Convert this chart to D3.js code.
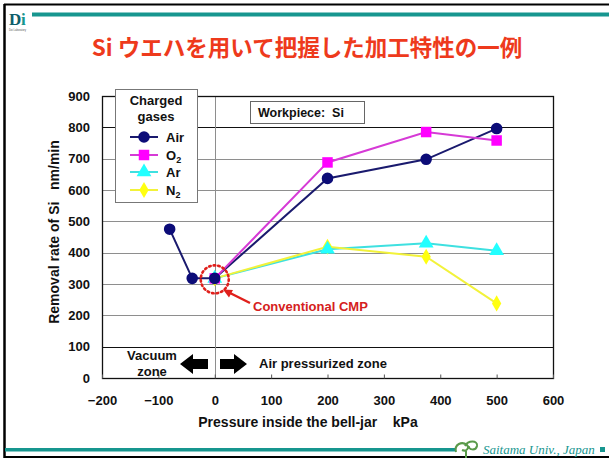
<!DOCTYPE html>
<html>
<head>
<meta charset="utf-8">
<script src="https://cdn.jsdelivr.net/npm/d3@7"></script>
<style>
  html, body { margin: 0; padding: 0; background: #fff; }
  svg { display: block; }
</style>
</head>
<body>
<svg id="chart" width="609" height="461" font-family="'Liberation Sans', Arial, sans-serif"></svg>
<script>
// Removal rate of Si versus bell-jar pressure, per charged gas
const pressures = {
  Air: [-80, -40, 0, 200, 375, 500],
  O2:  [0, 200, 375, 500],
  Ar:  [0, 200, 375, 500],
  N2:  [0, 200, 375, 500]
};
const airRate = [475, 318, 318, 637, 698, 796];
const o2Rate  = [318, 688, 785, 758];
const arRate  = [318, 411, 430, 406];
const n2Rate  = [318, 419, 387, 238];

const xTicks = [-200, -100, 0, 100, 200, 300, 400, 500, 600];
const yTicks = [0, 100, 200, 300, 400, 500, 600, 700, 800, 900];

const seriesNames = ["Air", "O2", "Ar", "N2"];
const seriesLabels = [["Air", ""], ["O", "2"], ["Ar", ""], ["N", "2"]];
const seriesRates = [airRate, o2Rate, arRate, n2Rate];

const teal = "#17968f";
const styles = {
  Air: { line: "#1a1a6e", fill: "#0c0c78", shape: d3.symbolCircle, size: 105 },
  O2:  { line: "#d63ad6", fill: "#ff00ff", shape: d3.symbolSquare, size: 110 },
  Ar:  { line: "#3ee0e0", fill: "#22ffff", shape: d3.symbolTriangle, size: 95 },
  N2:  { line: "#f2f23a", fill: "#ffff10", shape: d3.symbolDiamond, size: 75 }
};

const svg = d3.select("#chart");

// ---- slide frame ----
svg.append("rect").attr("x", 0).attr("y", 0).attr("width", 609).attr("height", 461).attr("fill", "#fff");
svg.append("line").attr("x1", 4).attr("x2", 609).attr("y1", 4.5).attr("y2", 4.5).attr("stroke", "#000").attr("stroke-width", 2);
svg.append("line").attr("x1", 4.5).attr("x2", 4.5).attr("y1", 4).attr("y2", 458).attr("stroke", "#000").attr("stroke-width", 2.5);
svg.append("line").attr("x1", 4).attr("x2", 609).attr("y1", 457).attr("y2", 457).attr("stroke", "#000").attr("stroke-width", 2);
svg.append("rect").attr("x", 32).attr("y", 12.5).attr("width", 577).attr("height", 4).attr("fill", teal);

// logo top-left
svg.append("text").attr("x", 9).attr("y", 25)
  .attr("font-family", "'Liberation Serif', serif").attr("font-weight", "bold")
  .attr("font-size", 17).attr("fill", "#0f5e6a").text("D");
svg.append("text").attr("x", 21).attr("y", 25)
  .attr("font-family", "'Liberation Serif', serif").attr("font-weight", "bold")
  .attr("font-size", 17).attr("fill", teal).text("i");
svg.append("text").attr("x", 9).attr("y", 30.5)
  .attr("font-size", 2.6).attr("fill", "#555").text("Doi Laboratory");

// bottom band
svg.append("rect").attr("x", 5).attr("y", 448).attr("width", 450).attr("height", 3.5).attr("fill", teal);
svg.append("path")
  .attr("d", "M456,452 C454,444 462,441 467,445 C470,448 466,452 462,450 M465,446 C468,440 478,440 477,446 C476,451 468,450 469,446 M466,450 L466,458")
  .attr("fill", "none").attr("stroke", "#5a9a4a").attr("stroke-width", 2);
svg.append("text").attr("x", 483).attr("y", 454)
  .attr("font-family", "'Liberation Serif', serif").attr("font-style", "italic")
  .attr("font-size", 13).attr("fill", teal).text("Saitama Univ., Japan");
svg.append("rect").attr("x", 600).attr("y", 447).attr("width", 5).attr("height", 5).attr("fill", teal);

// title
svg.append("text").attr("x", 307).attr("y", 56).attr("text-anchor", "middle")
  .attr("font-family", "'Noto Sans CJK JP', sans-serif").attr("font-weight", "bold")
  .attr("font-size", 22.5).attr("fill", "#ee3a1c")
  .text("Si ウエハを用いて把握した加工特性の一例");

// ---- scales ----
const x = d3.scaleLinear().domain([-200, 600]).range([102, 553]);
const y = d3.scaleLinear().domain([0, 900]).range([378, 96]);

const plot = svg.append("g");

// horizontal grid lines
plot.selectAll(".grid").data(yTicks.filter(t => t > 0 && t < 900)).join("line")
  .attr("x1", x(-200)).attr("x2", x(600))
  .attr("y1", d => Math.round(y(d)) + 0.5).attr("y2", d => Math.round(y(d)) + 0.5)
  .attr("stroke", d => (d === 100 || d === 800) ? "#111" : "#8e8e8e")
  .attr("stroke-width", 1);

// vertical line at zero pressure
plot.append("line")
  .attr("x1", Math.round(x(0)) + 0.5).attr("x2", Math.round(x(0)) + 0.5)
  .attr("y1", y(900)).attr("y2", y(0))
  .attr("stroke", "#8e8e8e").attr("stroke-width", 1);

// plot border
plot.append("rect")
  .attr("x", x(-200) + 0.5).attr("y", y(900) + 0.5)
  .attr("width", x(600) - x(-200)).attr("height", y(0) - y(900))
  .attr("fill", "none").attr("stroke", "#111").attr("stroke-width", 1.3);

// axes
const xAxis = d3.axisBottom(x).tickValues(xTicks).tickSizeInner(-4).tickSizeOuter(0).tickPadding(17);
const gx = svg.append("g").attr("transform", `translate(0,${y(0) + 0.5})`).call(xAxis);
gx.select(".domain").remove();
gx.selectAll("line").attr("stroke", "#555");
gx.selectAll("text").attr("font-size", 13).attr("font-weight", "bold").attr("fill", "#111")
  .attr("font-family", "'Liberation Sans', sans-serif");

const yAxis = d3.axisLeft(y).tickValues(yTicks).tickSizeInner(0).tickSizeOuter(0).tickPadding(12);
const gy = svg.append("g").attr("transform", `translate(${x(-200)},0)`).call(yAxis);
gy.select(".domain").remove();
gy.selectAll("text").attr("font-size", 13).attr("font-weight", "bold").attr("fill", "#111")
  .attr("font-family", "'Liberation Sans', sans-serif");

// axis titles
svg.append("text").attr("x", 308).attr("y", 427).attr("text-anchor", "middle")
  .attr("font-size", 14).attr("font-weight", "bold").attr("fill", "#111")
  .attr("xml:space", "preserve")
  .text("Pressure inside the bell-jar    kPa");
svg.append("text").attr("transform", "translate(59,232) rotate(-90)").attr("text-anchor", "middle")
  .attr("font-size", 14).attr("font-weight", "bold").attr("fill", "#111")
  .attr("xml:space", "preserve")
  .text("Removal rate of Si   nm/min");

// ---- zone annotations ----
svg.append("text").attr("x", 152).attr("y", 360).attr("text-anchor", "middle")
  .attr("font-size", 13).attr("font-weight", "bold").attr("fill", "#111").text("Vacuum");
svg.append("text").attr("x", 152).attr("y", 376).attr("text-anchor", "middle")
  .attr("font-size", 13).attr("font-weight", "bold").attr("fill", "#111").text("zone");
// block arrows
svg.append("path").attr("d", "M180,364 L193,354 L193,359 L208,359 L208,369 L193,369 L193,374 Z").attr("fill", "#000");
svg.append("path").attr("d", "M220,359 L234,359 L234,354 L247,364 L234,374 L234,369 L220,369 Z").attr("fill", "#000");
svg.append("text").attr("x", 259).attr("y", 368)
  .attr("font-size", 13).attr("font-weight", "bold").attr("fill", "#111").text("Air pressurized zone");

// ---- series ----
const line = d3.line();
seriesNames.forEach((name, i) => {
  const pts = pressures[name].map((p, j) => [x(p), y(seriesRates[i][j])]);
  plot.append("path").attr("d", line(pts)).attr("fill", "none")
    .attr("stroke", styles[name].line).attr("stroke-width", 2);
});
// draw markers in reverse so Air sits on top
seriesNames.slice().reverse().forEach(name => {
  const i = seriesNames.indexOf(name);
  const st = styles[name];
  plot.selectAll(".m" + name).data(pressures[name].map((p, j) => [p, seriesRates[i][j]])).join("path")
    .attr("transform", d => `translate(${x(d[0])},${y(d[1])})`)
    .attr("d", d3.symbol().type(st.shape).size(st.size))
    .attr("fill", st.fill);
});

// conventional CMP marker: dotted circle, arrow and label
svg.append("circle").attr("cx", x(0)).attr("cy", y(318) + 1).attr("r", 14)
  .attr("fill", "none").attr("stroke", "#e0201c").attr("stroke-width", 2.6)
  .attr("stroke-dasharray", "1.6,3").attr("stroke-linecap", "round");
svg.append("line").attr("x1", 250).attr("y1", 303).attr("x2", 230).attr("y2", 293)
  .attr("stroke", "#e0201c").attr("stroke-width", 2.5);
svg.append("path").attr("d", "M223,289.5 L233,290 L229,297.5 Z").attr("fill", "#e0201c");
svg.append("text").attr("x", 253).attr("y", 311)
  .attr("font-size", 13).attr("font-weight", "bold").attr("fill", "#d52020").text("Conventional CMP");

// workpiece box
svg.append("rect").attr("x", 250.5).attr("y", 101.5).attr("width", 114).attr("height", 22)
  .attr("fill", "#fff").attr("stroke", "#666").attr("stroke-width", 1);
svg.append("text").attr("x", 258).attr("y", 117).attr("xml:space", "preserve")
  .attr("font-size", 12.5).attr("font-weight", "bold").attr("fill", "#111").text("Workpiece:  Si");

// ---- legend ----
const lg = svg.append("g");
lg.append("rect").attr("x", 115.5).attr("y", 89.5).attr("width", 82).attr("height", 113)
  .attr("fill", "#fff").attr("stroke", "#777").attr("stroke-width", 1);
lg.append("text").attr("x", 156).attr("y", 105).attr("text-anchor", "middle")
  .attr("font-size", 13).attr("font-weight", "bold").attr("fill", "#111").text("Charged");
lg.append("text").attr("x", 156).attr("y", 121).attr("text-anchor", "middle")
  .attr("font-size", 13).attr("font-weight", "bold").attr("fill", "#111").text("gases");
const legendY = [137, 155, 172, 190];
seriesNames.forEach((name, i) => {
  const st = styles[name];
  const yy = legendY[i];
  lg.append("line").attr("x1", 130).attr("x2", 158).attr("y1", yy).attr("y2", yy)
    .attr("stroke", st.line).attr("stroke-width", 2);
  lg.append("path").attr("transform", `translate(144,${yy})`)
    .attr("d", d3.symbol().type(st.shape).size(st.size)).attr("fill", st.fill);
  const t = lg.append("text").attr("x", 166).attr("y", yy + 5)
    .attr("font-size", 13).attr("font-weight", "bold").attr("fill", "#111");
  t.append("tspan").text(seriesLabels[i][0]);
  if (seriesLabels[i][1]) {
    t.append("tspan").attr("dy", 3).attr("font-size", 9).text(seriesLabels[i][1]);
  }
});
</script>
</body>
</html>
